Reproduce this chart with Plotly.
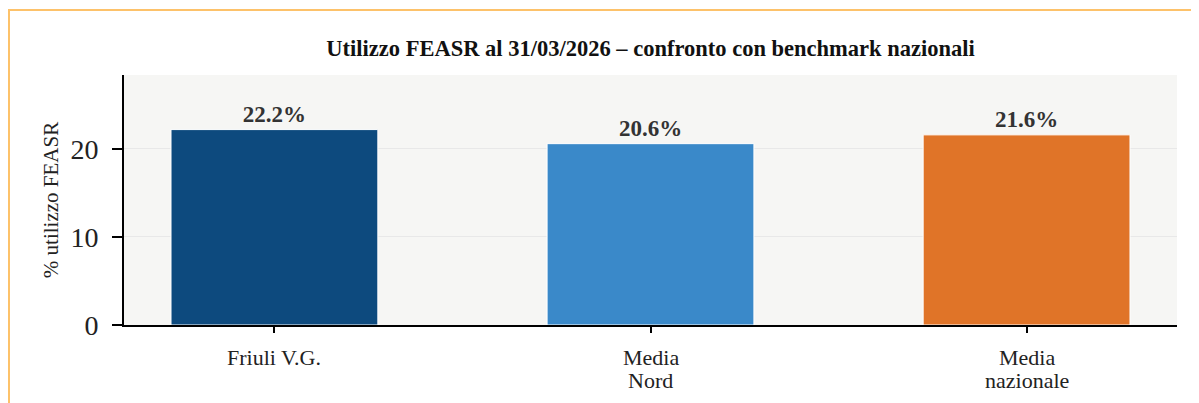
import plotly.graph_objects as go

categories = ["Friuli V.G.", "Media Nord", "Media nazionale"]
tick_lines = [["Friuli V.G."], ["Media", "Nord"], ["Media", "nazionale"]]
values = [22.2, 20.6, 21.6]
colors = ["#0d4a7e", "#3a89c9", "#e07428"]
labels = [f"<b>{v:.1f}%</b>" for v in values]

SERIF = "Liberation Serif, Times New Roman, serif"

fig = go.Figure()
fig.add_trace(go.Bar(
    x=categories, y=values, width=0.55,
    marker=dict(color=colors, line=dict(color="white", width=1)),
    text=labels, textposition="outside", cliponaxis=False,
    textfont=dict(family=SERIF, size=23, color="#333333"),
))

# category labels, drawn line by line for tighter line spacing
annotations = []
for cat, lines in zip(categories, tick_lines):
    for i, line in enumerate(lines):
        annotations.append(dict(x=cat, xref="x", y=0, yref="paper", yanchor="middle",
                                yshift=-32 - 23 * i, text=line, showarrow=False,
                                font=dict(family=SERIF, size=22, color="#222222")))

# page body has an 8px margin, so the figure is sized to fit the window
W, H = 1191, 395
bx, by, ex = -115 / 1053, 315 / 250, 1075 / 1053
fig.update_layout(
    width=W, height=H,
    margin=dict(l=116, r=22, t=67, b=78),
    paper_bgcolor="white", plot_bgcolor="#f6f6f4",
    font=dict(family=SERIF, color="#222222"),
    showlegend=False,
    title=dict(text="<b>Utilizzo FEASR al 31/03/2026 – confronto con benchmark nazionali</b>",
               x=0.5, xref="paper", y=1 - 40 / H, yref="container", yanchor="middle",
               font=dict(family=SERIF, size=22.5, color="#111111")),
    xaxis=dict(range=[-0.4, 2.4], showline=True, linecolor="black", linewidth=1.5,
               ticks="outside", ticklen=6, tickcolor="black", tickwidth=1.5, automargin=False,
               showticklabels=False, showgrid=False),
    yaxis=dict(range=[0, 28.4], showline=True, linecolor="black", linewidth=2,
               ticks="outside", ticklen=10, tickcolor="black", tickwidth=1.5, automargin=False,
               ticklabelstandoff=8,
               tickvals=[0, 10, 20], tickfont=dict(family=SERIF, size=28, color="#222222"),
               showgrid=True, gridcolor="#e8e8e8", gridwidth=1, zeroline=False,
               title=dict(text="% utilizzo FEASR", font=dict(family=SERIF, size=21, color="#222222"),
                          standoff=6)),
    annotations=annotations,
    shapes=[
        dict(type="path", xref="paper", yref="paper",
             path=f"M {bx},-0.4 L {bx},{by} L {ex},{by}",
             line=dict(color="#fdc26a", width=2)),
    ],
)

fig.write_html("out.html", config={"displayModeBar": False})
